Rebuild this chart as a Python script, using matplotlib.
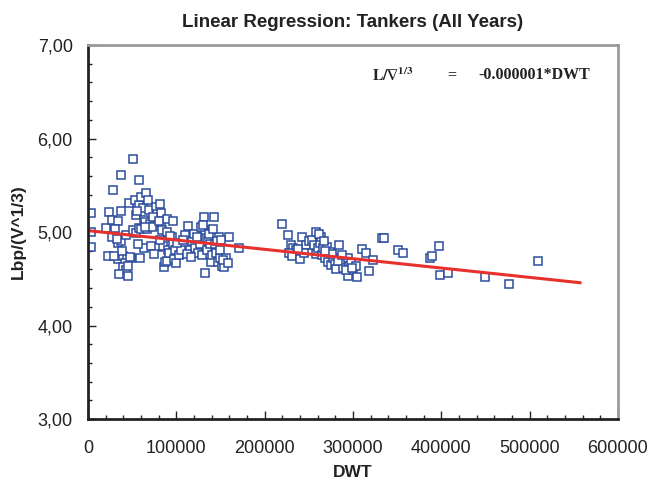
import numpy as np
import matplotlib
matplotlib.use("Agg")
import matplotlib.pyplot as plt
from matplotlib.ticker import MultipleLocator, FuncFormatter

plt.rcParams['font.family'] = ['Liberation Sans', 'DejaVu Sans']
plt.rcParams['mathtext.fontset'] = 'stix'

# Data (DWT, L/V^1/3)
dwt_small = [3000, 3000, 3000, 23000, 20000, 24000, 28000, 27000, 34000, 31000,
             29000, 27000, 34000, 37000, 37000, 37000, 43000, 46000, 34000, 40000,
             44000, 49000, 42000, 40000, 43000, 45000, 35000, 45000,
             51000, 51000, 54000, 53000, 54000, 58000, 58000, 58000, 60000, 60000,
             59000, 62000, 63000, 63000, 65000, 66000, 67000, 68000, 69000, 70000,
             76000, 77000, 78000, 78000, 79000, 82000, 83000, 83000, 84000, 85000,
             86000, 87000, 89000, 89000, 89000, 91000, 92000, 95000, 96000, 96000,
             97000, 98000, 100000, 103000, 105000, 110000, 113000, 115000, 118000,
             120000, 121000, 125000, 127000, 129000, 131000, 131000, 132000, 133000,
             134000, 135000, 136000, 138000, 139000, 140000, 143000, 144000, 145000,
             147000, 148000, 149000, 150000, 152000, 154000, 156000, 160000, 171000,
             72000, 74000, 80000, 64000, 56000, 93000, 101000, 107000, 112000,
             117000, 123000, 128000, 130000, 137000, 141000, 146000, 151000, 153000,
             158000, 57000, 48000, 38000, 30000, 33000, 71000, 75000, 81000]
ratio_small = [5.20, 5.00, 4.84, 4.74, 5.04, 5.21, 5.45, 5.13, 5.12, 5.03,
               4.96, 4.95, 4.88, 4.90, 5.22, 5.61, 4.97, 5.31, 4.71, 4.74,
               4.72, 4.72, 4.67, 4.63, 4.59, 4.53, 4.55, 4.64,
               5.78, 5.02, 4.99, 5.34, 5.18, 5.56, 5.29, 5.04, 5.37, 5.03,
               4.72, 5.26, 5.13, 4.83, 5.11, 5.42, 5.03, 5.34, 5.24, 5.09,
               5.13, 5.27, 5.19, 5.06, 4.84, 5.30, 5.20, 5.10, 5.02, 4.85,
               4.63, 4.68, 5.14, 5.00, 4.69, 4.81, 4.78, 4.95, 5.12, 4.87,
               4.71, 4.81, 4.67, 4.75, 4.81, 4.97, 5.06, 4.81, 4.90,
               4.98, 4.83, 4.78, 4.87, 4.75, 5.16, 5.02, 4.56, 4.99,
               4.94, 4.81, 4.91, 4.87, 4.68, 4.75, 5.16, 4.87, 4.78,
               4.68, 4.95, 4.72, 4.81, 4.64, 4.63, 4.72, 4.95, 4.83,
               5.05, 5.16, 5.12, 5.05, 5.22, 4.96, 4.88, 4.92, 4.76,
               4.73, 4.95, 5.05, 5.08, 4.98, 5.03, 4.90, 4.92, 4.70,
               4.67, 4.87, 4.73, 4.80, 4.74, 4.93, 4.85, 4.76, 4.92]

dwt_large = [220000, 226000, 230000, 232000, 235000, 228000, 231000, 240000, 242000,
             247000, 250000, 254000, 256000, 258000, 258000, 260000, 263000, 264000,
             265000, 266000, 268000, 271000, 272000, 274000, 275000, 277000, 280000,
             281000, 284000, 286000, 289000, 294000, 295000, 297000, 294000, 298000,
             300000, 305000, 303000, 310000, 315000, 318000, 323000, 333000, 335000,
             351000, 357000, 387000, 390000, 397000, 398000, 408000, 450000, 477000,
             509000, 262000, 267000, 276000, 283000, 288000, 292000, 299000, 268000,
             245000, 238000]
ratio_large = [5.09, 4.97, 4.86, 4.83, 4.81, 4.78, 4.74, 4.71, 4.95,
               4.86, 4.90, 4.91, 4.86, 5.00, 4.76, 4.83, 4.88, 4.95,
               4.75, 4.83, 4.72, 4.84, 4.68, 4.79, 4.65, 4.72, 4.66,
               4.60, 4.86, 4.70, 4.61, 4.72, 4.64, 4.56, 4.53, 4.67,
               4.59, 4.52, 4.64, 4.82, 4.78, 4.58, 4.70, 4.94, 4.94,
               4.81, 4.78, 4.72, 4.74, 4.85, 4.54, 4.56, 4.52, 4.44,
               4.69, 4.98, 4.90, 4.76, 4.69, 4.75, 4.59, 4.62, 4.80,
               4.78, 4.82]

# regression line
intercept = 5.015
slope = -0.000001
line_end = 557000

dwt = np.array(dwt_small + dwt_large)
ratio = np.array(ratio_small + ratio_large)

fig = plt.figure(figsize=(6.48, 4.93), dpi=100)
ax = fig.add_axes([0.1358, 0.150, 0.8179, 0.7587])

ax.plot(dwt, ratio, linestyle='none', marker='s', markersize=5.7,
        markerfacecolor='white', markeredgecolor='#2B4D9E', markeredgewidth=1.1)
xl = np.array([0, line_end])
ax.plot(xl, intercept + slope * xl, color='#E8302C', linewidth=2.2)

ax.set_xlim(0, 600000)
ax.set_ylim(3, 7)
ax.xaxis.set_major_locator(MultipleLocator(100000))
ax.xaxis.set_minor_locator(MultipleLocator(20000))
ax.yaxis.set_major_locator(MultipleLocator(1))
ax.yaxis.set_minor_locator(MultipleLocator(0.2))
ax.yaxis.set_major_formatter(FuncFormatter(lambda v, p: f"{v:.2f}".replace('.', ',')))
ax.xaxis.set_major_formatter(FuncFormatter(lambda v, p: f"{int(v)}"))

ax.tick_params(which='major', direction='in', length=6, width=1, labelsize=13,
               top=False, right=False, colors='#222222')
ax.tick_params(axis='x', which='major', pad=15)
ax.tick_params(axis='y', which='major', pad=11)
ax.tick_params(which='minor', direction='in', length=3, width=1,
               top=False, right=False, colors='#222222')

for s in ['left', 'bottom']:
    ax.spines[s].set_color('#222222')
    ax.spines[s].set_linewidth(2)
for s in ['top', 'right']:
    ax.spines[s].set_color('#9a9a9a')
    ax.spines[s].set_linewidth(2)

ax.set_title('Linear Regression: Tankers (All Years)', fontsize=13.5,
             fontweight='bold', color='#222222', pad=13)
ax.set_xlabel('DWT', fontsize=12.5, fontweight='bold', color='#222222', labelpad=6)
ax.set_ylabel('Lbp/(V^1/3)', fontsize=12.5, fontweight='bold', color='#222222', labelpad=8)

serif = ['Liberation Serif', 'DejaVu Serif']
ax.text(0.536, 0.92, r'$\mathbf{L/}\mathbf{\nabla}^{\mathbf{1/3}}$', transform=ax.transAxes,
        fontsize=11.3, ha='left', va='center', color='#222222')
ax.text(0.687, 0.92, '=', transform=ax.transAxes, family=serif, fontweight='bold',
        fontsize=11.5, ha='center', va='center', color='#222222')
ax.text(0.736, 0.92, '-0.000001*DWT', transform=ax.transAxes, family=serif,
        fontweight='bold', fontsize=11.5, ha='left', va='center', color='#222222')

fig.savefig('out.png', dpi=100)
